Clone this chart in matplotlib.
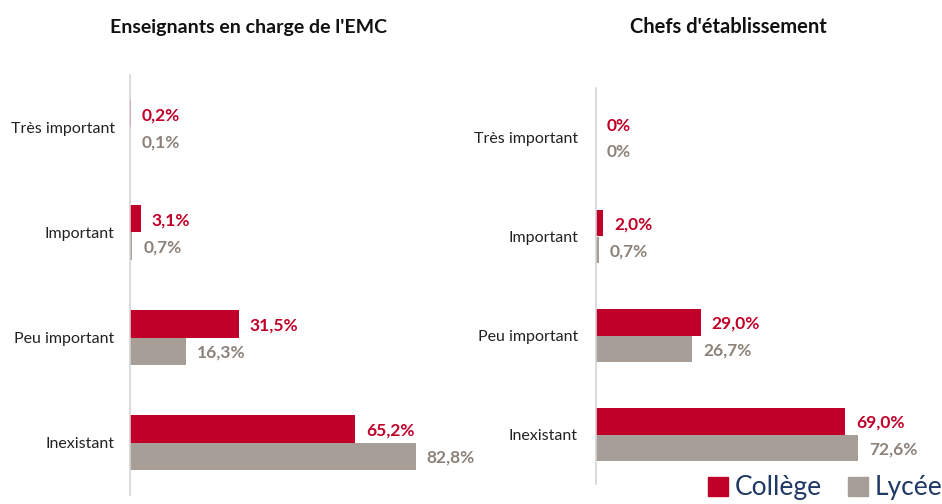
import matplotlib
matplotlib.use("Agg")
import matplotlib.pyplot as plt
from matplotlib.patches import Patch

plt.rcParams['font.family'] = ['Lato', 'DejaVu Sans']

# data
categories = ["Très important", "Important", "Peu important", "Inexistant"]
ens_college = [0.2, 3.1, 31.5, 65.2]
ens_lycee = [0.1, 0.7, 16.3, 82.8]
ens_college_txt = ["0,2%", "3,1%", "31,5%", "65,2%"]
ens_lycee_txt = ["0,1%", "0,7%", "16,3%", "82,8%"]
chef_college = [0.0, 2.0, 29.0, 69.0]
chef_lycee = [0.0, 0.7, 26.7, 72.6]
chef_college_txt = ["0%", "2,0%", "29,0%", "69,0%"]
chef_lycee_txt = ["0%", "0,7%", "26,7%", "72,6%"]
titles = ["Enseignants en charge de l'EMC", "Chefs d'établissement"]

RED = "#C00028"
GREY = "#A69E97"
W, H = 942, 504

fig = plt.figure(figsize=(W / 100, H / 100), dpi=100)

# axes boxes in pixels: left, top, right, bottom
boxes = [(130, 75, 475, 495), (596, 88, 939, 484)]
xmax = [100, 95]
bh = [0.26, 0.27]


def draw(ax, col, lyc, col_txt, lyc_txt, h, xm, pad):
    y = list(range(len(categories)))
    ax.barh([v - h / 2 for v in y], col, height=h, color=RED)
    ax.barh([v + h / 2 for v in y], lyc, height=h, color=GREY)
    for i in y:
        ax.annotate(col_txt[i], (col[i], i - h / 2), xytext=(8, -1), textcoords="offset points",
                    va="center", ha="left", color=RED, fontsize=12.5, fontweight="bold")
        ax.annotate(lyc_txt[i], (lyc[i], i + h / 2), xytext=(8, -1), textcoords="offset points",
                    va="center", ha="left", color="#8C8279", fontsize=12.5, fontweight="bold")
    ax.set_xlim(0, xm)
    ax.set_ylim(len(categories) - 0.5, -0.5)
    ax.set_yticks(y)
    ax.set_yticklabels(categories, fontsize=11.5, color="#222222")
    ax.tick_params(axis="y", length=0, pad=pad)
    ax.set_xticks([])
    for s in ["top", "right", "bottom"]:
        ax.spines[s].set_visible(False)
    ax.spines["left"].set_color("#D4D4D4")
    ax.spines["left"].set_linewidth(1.2)


sets = [(ens_college, ens_lycee, ens_college_txt, ens_lycee_txt),
        (chef_college, chef_lycee, chef_college_txt, chef_lycee_txt)]
pads = [11, 13]
for k, (l, t, r, b) in enumerate(boxes):
    ax = fig.add_axes([l / W, 1 - b / H, (r - l) / W, (b - t) / H])
    draw(ax, *sets[k], bh[k], xmax[k], pads[k])

fig.text(249 / W, 1 - 27 / H, titles[0], ha="center", va="center", fontsize=14,
         fontweight="bold", color="#111111")
fig.text(728 / W, 1 - 27 / H, titles[1], ha="center", va="center", fontsize=14.5,
         fontweight="bold", color="#111111")

handles = [Patch(color=RED, label="Collège"), Patch(color=GREY, label="Lycée")]
fig.legend(handles=handles, loc="center right", bbox_to_anchor=(966 / W, 1 - 488 / H),
           ncol=2, frameon=False, fontsize=19, handlelength=0.75, handleheight=0.75,
           handletextpad=0.25, columnspacing=1.0, labelcolor="#1F3864")

fig.savefig("out.png", dpi=100)
